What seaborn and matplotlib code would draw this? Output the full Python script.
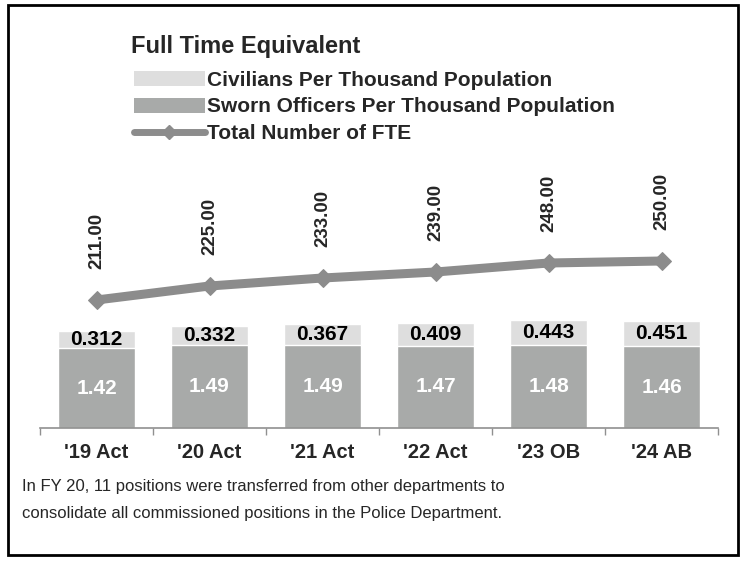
import numpy as np
import matplotlib
matplotlib.use("Agg")
import matplotlib.pyplot as plt
import seaborn as sns
from matplotlib.patches import Rectangle, Patch
from matplotlib.lines import Line2D

categorias = ["'19 Act", "'20 Act", "'21 Act", "'22 Act", "'23 OB", "'24 AB"]
sworn = [1.42, 1.49, 1.49, 1.47, 1.48, 1.46]
civis = [0.312, 0.332, 0.367, 0.409, 0.443, 0.451]
fte = [211.00, 225.00, 233.00, 239.00, 248.00, 250.00]

cor_civ = '#dedede'
cor_sworn = '#a8aaa9'
cor_linha = '#8c8c8c'

sns.set_theme(style="white")
plt.rcParams['font.family'] = ['Liberation Sans', 'DejaVu Sans']

fig = plt.figure(figsize=(7.46, 5.65), dpi=100)
ax = fig.add_axes([40/746, 1 - 428/565, 678/746, 268/565])

totais = np.array(sworn) + np.array(civis)
sns.barplot(x=categorias, y=totais, color=cor_civ, width=0.69, saturation=1, ax=ax)
sns.barplot(x=categorias, y=sworn, color=cor_sworn, width=0.69, saturation=1, ax=ax)

for i in range(len(categorias)):
    ax.text(i, sworn[i] + civis[i] / 2, f'{civis[i]:.3f}', ha='center', va='center',
            fontsize=15, fontweight='bold', color='black')
    ax.text(i, sworn[i] / 2, f'{sworn[i]:.2f}', ha='center', va='center',
            fontsize=15, fontweight='bold', color='white')

ax.set_xlim(-0.5, 5.5)
ax.set_ylim(0, 268 / 56)
ax.set_yticks([])
ax.set_ylabel('')
for s in ['top', 'right', 'left']:
    ax.spines[s].set_visible(False)
ax.spines['bottom'].set_color('#909090')
ax.spines['bottom'].set_linewidth(1.2)
ax.set_xticks(np.arange(-0.5, 6, 1), minor=True)
ax.tick_params(axis='x', which='major', length=0, pad=11, labelsize=14.5)
ax.tick_params(axis='x', which='minor', length=5, color='#909090', direction='out', bottom=True)
for t in ax.get_xticklabels():
    t.set_fontweight('bold')

ax2 = ax.twinx()
pos = np.arange(len(fte))
sns.lineplot(x=pos, y=fte, color=cor_linha, linewidth=6.5, marker='D', markersize=9,
             markeredgecolor=cor_linha, ax=ax2)
ax2.set_ylim(83, 351)
ax2.set_yticks([])
ax2.set_ylabel('')
for s in ['top', 'right', 'left', 'bottom']:
    ax2.spines[s].set_visible(False)
for i, v in enumerate(fte):
    ax2.annotate(f'{v:.2f}', (i, v), xytext=(0, 22), textcoords='offset points',
                 rotation=90, ha='center', va='bottom', fontsize=13.5, fontweight='bold')

fig.text(246/746, 1 - 46/565, 'Full Time Equivalent', ha='center', va='center',
         fontsize=17, fontweight='bold')

handles = [
    Patch(facecolor=cor_civ, edgecolor='none'),
    Patch(facecolor=cor_sworn, edgecolor='none'),
    Line2D([0], [0], color=cor_linha, linewidth=5, marker='D', markersize=7),
]
labels = ['Civilians Per Thousand Population', 'Sworn Officers Per Thousand Population',
          'Total Number of FTE']
fig.legend(handles, labels, loc='upper left', bbox_to_anchor=(134/746, 1 - 71/565),
           frameon=False, handlelength=3.4, handletextpad=0.1, labelspacing=0.36,
           prop={'weight': 'bold', 'size': 15}, borderpad=0, borderaxespad=0)

nota = ('In FY 20, 11 positions were transferred from other departments to\n'
        'consolidate all commissioned positions in the Police Department.')
fig.text(22/746, 1 - 479/565, nota, ha='left', va='top', fontsize=12, linespacing=2.0)

fig.patches.append(Rectangle((8/746, 10/565), 730/746, 550/565, transform=fig.transFigure,
                             fill=False, edgecolor='black', linewidth=2))

fig.savefig('out.png', dpi=100)
